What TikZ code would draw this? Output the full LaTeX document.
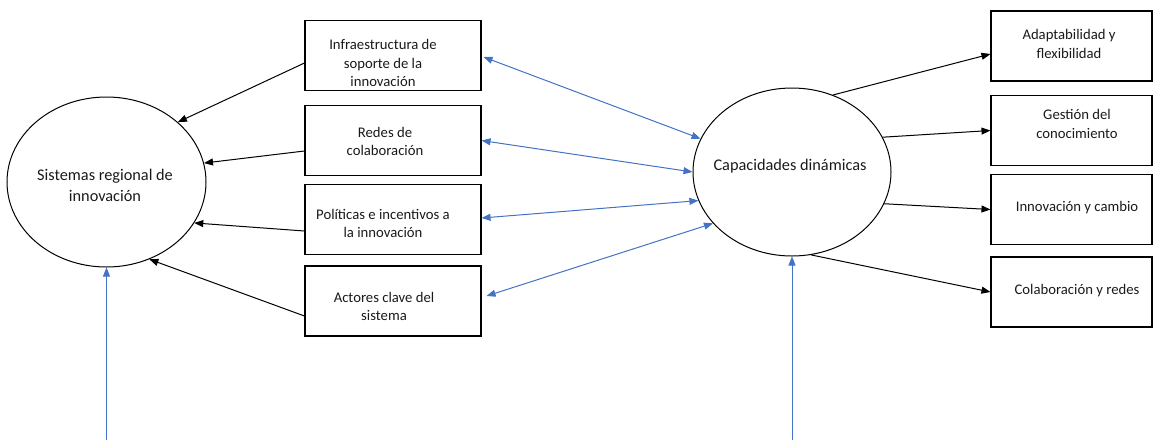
\documentclass[tikz,border=0pt]{standalone}
\usepackage{fontspec}
\setmainfont{Carlito}
\usetikzlibrary{arrows.meta,shapes.geometric}
\definecolor{wblue}{HTML}{4472C4}
\definecolor{wtext}{HTML}{1A1A1A}
\tikzset{
  boxnode/.style={draw=black,line width=1.1pt,rectangle,minimum height=70pt,inner sep=0pt},
  midbox/.style={boxnode,minimum width=176pt},
  rightbox/.style={boxnode,minimum width=161pt},
  ovalnode/.style={draw=black,line width=1pt,ellipse,inner sep=0pt},
  txt/.style={text=wtext,align=center,font=\fontsize{14.7}{18.8}\selectfont,inner sep=0pt},
  bigtxt/.style={txt,font=\fontsize{16.3}{21}\selectfont},
  blackarrow/.style={draw=black,line width=1pt,-{Triangle[length=9pt,width=7pt]}},
  bluearrow/.style={draw=wblue,line width=1pt,-{Triangle[length=9pt,width=7pt]}},
  bluedouble/.style={draw=wblue,line width=1pt,{Triangle[length=9pt,width=7pt]}-{Triangle[length=9pt,width=7pt]}}
}
\begin{document}
\begin{tikzpicture}[x=1pt,y=-1pt]
\useasboundingbox (0,0) rectangle (1156,440);
% ellipses
\node[ovalnode,minimum width=199pt,minimum height=170pt] (sri) at (106.5,182) {};
\node[bigtxt] (srit) at (105,185.5) {Sistemas regional de\\innovación};
\node[ovalnode,minimum width=198pt,minimum height=168pt] (cd) at (792,172) {};
\node[bigtxt] (cdt) at (790,166) {Capacidades dinámicas};
% middle boxes
\node[midbox] (b1) at (393,55.5) {};
\node[midbox] (b2) at (393,140.5) {};
\node[midbox] (b3) at (393,219.5) {};
\node[midbox] (b4) at (393,301) {};
\node[txt] (t1) at (383,63) {Infraestructura de\\soporte de la\\innovación};
\node[txt] (t2) at (385,141.5) {Redes de\\colaboración};
\node[txt] (t3) at (383,223.5) {Políticas e incentivos a\\la innovación};
\node[txt] (t4) at (384,306.5) {Actores clave del\\sistema};
% right boxes
\node[rightbox] (r1) at (1071.5,46) {};
\node[rightbox] (r2) at (1071.5,130.5) {};
\node[rightbox] (r3) at (1071.5,209.5) {};
\node[rightbox] (r4) at (1071.5,292) {};
\node[txt] (s1) at (1069,44) {Adaptabilidad y\\flexibilidad};
\node[txt] (s2) at (1077,124) {Gestión del\\conocimiento};
\node[txt] (s3) at (1077,208) {Innovación y cambio};
\node[txt] (s4) at (1077,291) {Colaboración y redes};
% free ends
\coordinate (lb) at (106.5,440);
\coordinate (rb) at (792,440);
% black arrows to left ellipse
\draw[blackarrow] ([yshift=-7.5pt]b1.west) -- (sri.40.5);
\draw[blackarrow] ([yshift=-10.5pt]b2.west) -- (sri.11.3);
\draw[blackarrow] ([yshift=-11.5pt]b3.west) -- (sri.-25.4);
\draw[blackarrow] ([yshift=-15pt]b4.west) -- (sri.-61.7);
\draw[bluearrow] (lb) -- (sri.south);
% blue double arrows
\draw[bluedouble] ([xshift=2pt,yshift=-1.5pt]b1.east) -- (cd.160);
\draw[bluedouble] (b2.east) -- (cd.180);
\draw[bluedouble] ([yshift=1.5pt]b3.east) -- (cd.197);
\draw[bluedouble] ([xshift=5pt,yshift=5pt]b4.east) -- (cd.213.7);
% black arrows right
\draw[blackarrow] (cd.62.3) -- ([yshift=-8pt]r1.west);
\draw[blackarrow] (cd.21.5) -- (r2.west);
\draw[blackarrow] (cd.-19.2) -- (r3.west);
\draw[blackarrow] (cd.-77) -- (r4.west);
\draw[bluearrow] (rb) -- (cd.south);
\end{tikzpicture}
\end{document}
